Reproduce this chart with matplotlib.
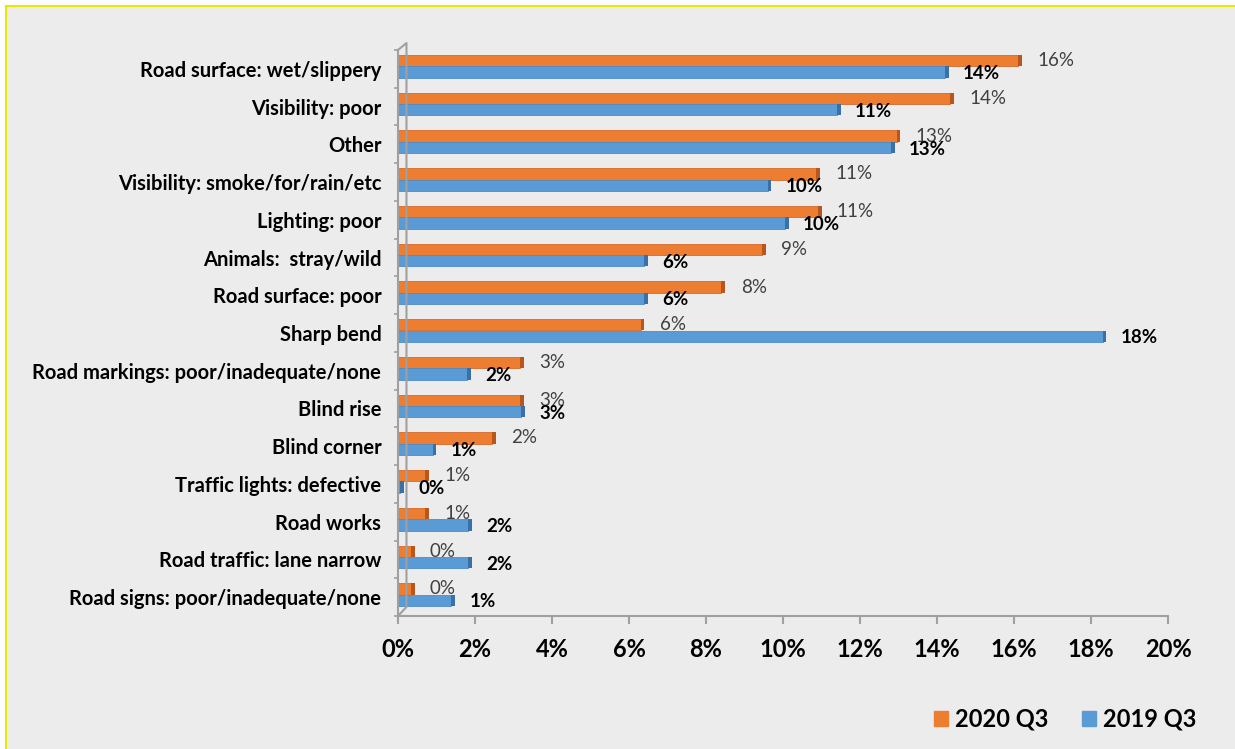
import matplotlib.pyplot as plt
from matplotlib.patches import Rectangle
from matplotlib.lines import Line2D
import numpy as np

plt.rcParams['font.family'] = ['Lato', 'DejaVu Sans']

categories = ['Road surface: wet/slippery', 'Visibility: poor', 'Other',
              'Visibility: smoke/for/rain/etc', 'Lighting: poor',
              'Animals:  stray/wild', 'Road surface: poor', 'Sharp bend',
              'Road markings: poor/inadequate/none', 'Blind rise',
              'Blind corner', 'Traffic lights: defective', 'Road works',
              'Road traffic: lane narrow', 'Road signs: poor/inadequate/none']
q3_2020 = [16.1, 14.35, 12.95, 10.86, 10.9, 9.45, 8.4, 6.3,
           3.16, 3.16, 2.44, 0.7, 0.7, 0.33, 0.33]
q3_2019 = [14.2, 11.4, 12.8, 9.6, 10.05, 6.4, 6.4, 18.3,
           1.8, 3.2, 0.9, 0.05, 1.83, 1.83, 1.38]
xticks = [0, 2, 4, 6, 8, 10, 12, 14, 16, 18, 20]

W, H = 1235, 749
fig = plt.figure(figsize=(W / 100, H / 100), dpi=100, facecolor='white')

# panel background with yellow frame on top/left
fig.add_artist(Rectangle((6 / W, 0), 1, 1 - 6 / H, transform=fig.transFigure,
                         facecolor='#ececec', edgecolor='none', zorder=-10))
fig.add_artist(Line2D([6 / W, 6 / W], [0, 1 - 6 / H], color='#e8e800', lw=1.5))
fig.add_artist(Line2D([6 / W, 1], [1 - 6 / H, 1 - 6 / H], color='#e8e800', lw=1.5))

ax = fig.add_axes([398 / W, 1 - 616 / H, (1168 - 398) / W, (616 - 50) / H])
ax.set_facecolor('none')

y = np.arange(len(categories))
h = 0.30
orange, orange_dk = '#ed7d31', '#b9561b'
blue, blue_dk = '#5b9bd5', '#3a70a8'
cap = 0.1

ax.barh(y - 0.218, q3_2020, height=h, color=orange, edgecolor='#d4692a', lw=0.6)
ax.barh(y - 0.218, cap, left=q3_2020, height=h, color=orange_dk, lw=0)
ax.barh(y + 0.085, q3_2019, height=h, color=blue, edgecolor='#4d8cc6', lw=0.6)
ax.barh(y + 0.085, cap, left=q3_2019, height=h, color=blue_dk, lw=0)

for i in range(len(categories)):
    ax.text(q3_2020[i] + cap + 0.4, y[i] - 0.218, f'{q3_2020[i]:.0f}%',
            va='center', ha='left', fontsize=13.5, color='#404040')
    ax.text(q3_2019[i] + cap + 0.37, y[i] + 0.125, f'{q3_2019[i]:.0f}%',
            va='center', ha='left', fontsize=13.5, color='black', fontweight='bold')

ax.set_xlim(0, 20)
ax.set_ylim(len(categories) - 0.5, -0.5)
ax.set_xticks(xticks)
ax.set_xticklabels([f'{t}%' for t in xticks], fontsize=17, fontweight='bold')
ax.set_yticks(y)
ax.set_yticklabels(categories, fontsize=14.5, fontweight='bold')
ax.set_yticks(np.arange(-0.5, len(categories)), minor=True)
ax.tick_params(axis='y', which='major', length=0, pad=12)
ax.tick_params(axis='y', which='minor', length=3, width=1.2, color='#a0a0a0')
ax.tick_params(axis='x', length=6, width=1.5, color='#a0a0a0', pad=10)

for s in ['top', 'right']:
    ax.spines[s].set_visible(False)
for s in ['left', 'bottom']:
    ax.spines[s].set_color('#a0a0a0')
    ax.spines[s].set_linewidth(1.5)

# side wall of the 3D box
top_in = -0.5 - 7 / 37.7
bot_in = len(categories) - 0.5 - 9 / 37.7
ax.plot([0, 0.22, 0.22, 0], [-0.5, top_in, bot_in, len(categories) - 0.5],
        color='#a0a0a0', lw=1.5, clip_on=False)

leg = fig.legend(handles=[Rectangle((0, 0), 1, 1, color=orange),
                          Rectangle((0, 0), 1, 1, color=blue)],
                 labels=['2020 Q3', '2019 Q3'], ncol=2, frameon=False,
                 loc='center', bbox_to_anchor=(1065 / W, 1 - 719 / H),
                 prop={'size': 17, 'weight': 'bold'},
                 handlelength=0.6, handleheight=0.6, handletextpad=0.3,
                 columnspacing=1.4, borderpad=0, borderaxespad=0)

fig.savefig('out.png', dpi=100, facecolor=fig.get_facecolor())
